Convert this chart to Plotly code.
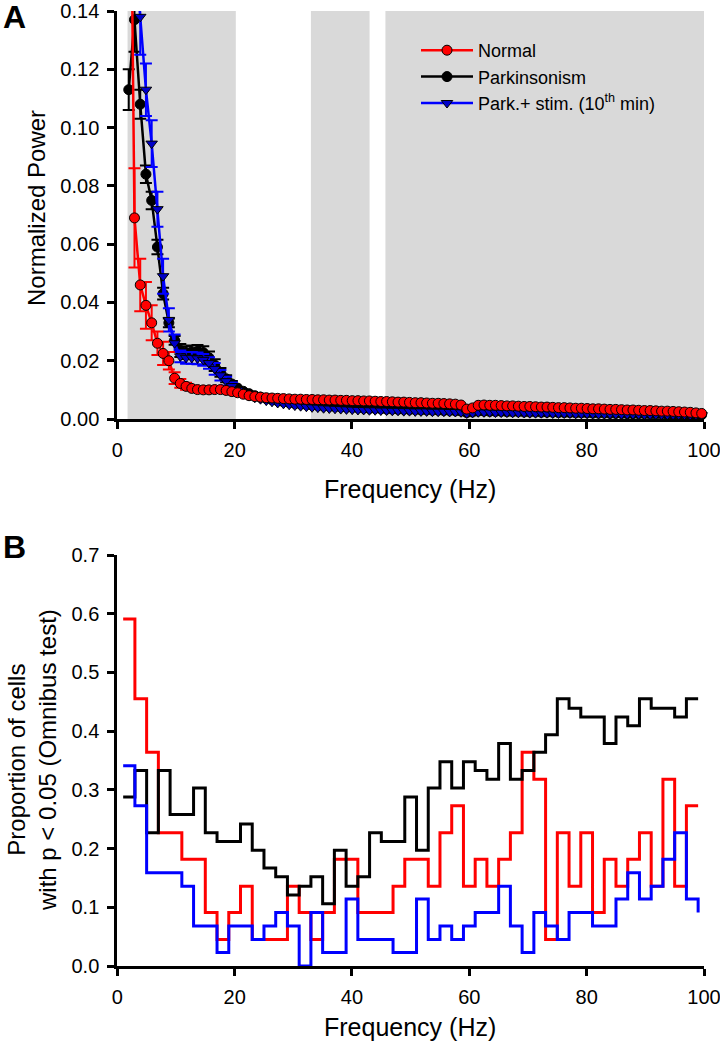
import plotly.graph_objects as go

# ---------------- Panel A data (spectra) ----------------
freq_a = [1.95, 2.93, 3.91, 4.88, 5.86, 6.84, 7.81, 8.79, 9.77, 10.74,
          11.72, 12.70, 13.67, 14.65, 15.63, 16.60, 17.58, 18.55, 19.53, 20.51,
          21.48, 22.46, 23.44, 24.41, 25.39, 26.37, 27.34, 28.32, 29.30, 30.27,
          31.25, 32.23, 33.20, 34.18, 35.16, 36.13, 37.11, 38.09, 39.06, 40.04,
          41.02, 41.99, 42.97, 43.95, 44.92, 45.90, 46.88, 47.85, 48.83, 49.80,
          50.78, 51.76, 52.73, 53.71, 54.69, 55.66, 56.64, 57.62, 58.59, 59.57,
          60.55, 61.52, 62.50, 63.48, 64.45, 65.43, 66.41, 67.38, 68.36, 69.34,
          70.31, 71.29, 72.27, 73.24, 74.22, 75.20, 76.17, 77.15, 78.13, 79.10,
          80.08, 81.05, 82.03, 83.01, 83.98, 84.96, 85.94, 86.91, 87.89, 88.87,
          89.84, 90.82, 91.80, 92.77, 93.75, 94.73, 95.70, 96.68, 97.66, 98.63,
          99.61]

normal_a = [0.2600, 0.0690, 0.0460, 0.0390, 0.0330, 0.0260, 0.0225, 0.0200, 0.0140, 0.0122,
            0.0112, 0.0105, 0.0101, 0.0100, 0.0100, 0.0101, 0.0101, 0.0098, 0.0094, 0.0090,
            0.0085, 0.0080, 0.0077, 0.0075, 0.0073, 0.0072, 0.0071, 0.0070, 0.0069, 0.0068,
            0.0068, 0.0067, 0.0067, 0.0066, 0.0066, 0.0065, 0.0065, 0.0064, 0.0064, 0.0063,
            0.0063, 0.0062, 0.0062, 0.0061, 0.0060, 0.0060, 0.0059, 0.0058, 0.0058, 0.0057,
            0.0056, 0.0056, 0.0055, 0.0054, 0.0054, 0.0053, 0.0052, 0.0051, 0.0048, 0.0034,
            0.0038, 0.0047, 0.0048, 0.0047, 0.0047, 0.0046, 0.0045, 0.0045, 0.0044, 0.0043,
            0.0043, 0.0042, 0.0041, 0.0041, 0.0040, 0.0039, 0.0039, 0.0038, 0.0037, 0.0037,
            0.0036, 0.0035, 0.0035, 0.0034, 0.0033, 0.0033, 0.0032, 0.0031, 0.0031, 0.0030,
            0.0029, 0.0029, 0.0028, 0.0027, 0.0027, 0.0026, 0.0025, 0.0024, 0.0023, 0.0021,
            0.0019]
normal_err = [0.030, 0.017, 0.009, 0.008, 0.006, 0.004, 0.004, 0.003, 0.002, 0.0015, 0.0012]

park_a = [0.1130, 0.1370, 0.1080, 0.0840, 0.0750, 0.0590, 0.0430, 0.0330, 0.0270, 0.0235,
          0.0228, 0.0230, 0.0232, 0.0228, 0.0210, 0.0185, 0.0160, 0.0138, 0.0120, 0.0106,
          0.0095, 0.0087, 0.0080, 0.0075, 0.0070, 0.0066, 0.0062, 0.0059, 0.0056, 0.0053,
          0.0051, 0.0049, 0.0047, 0.0046, 0.0044, 0.0043, 0.0042, 0.0041, 0.0040, 0.0039,
          0.0038, 0.0037, 0.0036, 0.0036, 0.0035, 0.0034, 0.0034, 0.0033, 0.0033, 0.0032,
          0.0032, 0.0031, 0.0031, 0.0030, 0.0030, 0.0029, 0.0029, 0.0028, 0.0027, 0.0022,
          0.0024, 0.0027, 0.0027, 0.0026, 0.0026, 0.0026, 0.0025, 0.0025, 0.0025, 0.0024,
          0.0024, 0.0024, 0.0023, 0.0023, 0.0023, 0.0022, 0.0022, 0.0022, 0.0021, 0.0021,
          0.0021, 0.0020, 0.0020, 0.0020, 0.0019, 0.0019, 0.0019, 0.0018, 0.0018, 0.0018,
          0.0018, 0.0017, 0.0017, 0.0017, 0.0016, 0.0016, 0.0016, 0.0016, 0.0015, 0.0015,
          0.0015]
park_err = [0.007, 0.011, 0.005, 0.003, 0.003, 0.0025, 0.002, 0.0015, 0.0015, 0.0022,
            0.0022, 0.0022, 0.0022, 0.0022, 0.0022, 0.002, 0.0015, 0.0012, 0.001]

stim_a = [0.1700, 0.1600, 0.1380, 0.1130, 0.0945, 0.0720, 0.0490, 0.0340, 0.0260, 0.0215,
          0.0210, 0.0210, 0.0208, 0.0203, 0.0192, 0.0172, 0.0150, 0.0130, 0.0113, 0.0099,
          0.0088, 0.0080, 0.0073, 0.0068, 0.0063, 0.0059, 0.0055, 0.0052, 0.0049, 0.0046,
          0.0044, 0.0042, 0.0040, 0.0039, 0.0037, 0.0036, 0.0035, 0.0034, 0.0033, 0.0032,
          0.0031, 0.0031, 0.0030, 0.0030, 0.0029, 0.0029, 0.0028, 0.0028, 0.0027, 0.0027,
          0.0026, 0.0026, 0.0026, 0.0025, 0.0025, 0.0025, 0.0024, 0.0024, 0.0023, 0.0019,
          0.0021, 0.0023, 0.0023, 0.0023, 0.0022, 0.0022, 0.0022, 0.0021, 0.0021, 0.0021,
          0.0020, 0.0020, 0.0020, 0.0020, 0.0019, 0.0019, 0.0019, 0.0019, 0.0018, 0.0018,
          0.0018, 0.0018, 0.0017, 0.0017, 0.0017, 0.0017, 0.0016, 0.0016, 0.0016, 0.0016,
          0.0015, 0.0015, 0.0015, 0.0015, 0.0014, 0.0014, 0.0014, 0.0014, 0.0013, 0.0013,
          0.0013]
stim_err = [0.010, 0.010, 0.013, 0.009, 0.008, 0.006, 0.006, 0.004, 0.003, 0.002,
            0.002, 0.002, 0.002, 0.002, 0.002, 0.002, 0.0018, 0.0015, 0.0012]

# gray frequency bands (Hz)
band_start = [1.75, 33.0, 45.7]
band_end = [20.2, 43.0, 100.0]

# ---------------- Panel B data (proportion of cells) ----------------
freq_b = [1, 3, 5, 7, 9, 11, 13, 15, 17, 19,
          21, 23, 25, 27, 29, 31, 33, 35, 37, 39,
          41, 43, 45, 47, 49, 51, 53, 55, 57, 59,
          61, 63, 65, 67, 69, 71, 73, 75, 77, 79,
          81, 83, 85, 87, 89, 91, 93, 95, 97, 99]
normal_b = [0.591, 0.455, 0.364, 0.227, 0.227, 0.182, 0.182, 0.091, 0.045, 0.091,
            0.136, 0.045, 0.045, 0.045, 0.136, 0.091, 0.045, 0.091, 0.182, 0.182,
            0.091, 0.091, 0.091, 0.136, 0.182, 0.182, 0.136, 0.227, 0.273, 0.136,
            0.182, 0.136, 0.182, 0.227, 0.364, 0.318, 0.045, 0.227, 0.136, 0.227,
            0.091, 0.182, 0.136, 0.182, 0.227, 0.136, 0.318, 0.136, 0.273, 0.273]
park_b = [0.288, 0.333, 0.227, 0.333, 0.258, 0.258, 0.303, 0.227, 0.212, 0.212,
          0.242, 0.197, 0.167, 0.152, 0.121, 0.136, 0.152, 0.106, 0.197, 0.136,
          0.152, 0.227, 0.212, 0.212, 0.288, 0.197, 0.303, 0.348, 0.303, 0.348,
          0.333, 0.318, 0.379, 0.318, 0.333, 0.364, 0.394, 0.455, 0.439, 0.424,
          0.424, 0.379, 0.424, 0.409, 0.455, 0.439, 0.439, 0.424, 0.455, 0.455]
stim_b = [0.341, 0.273, 0.159, 0.159, 0.159, 0.136, 0.068, 0.068, 0.023, 0.068,
          0.068, 0.045, 0.068, 0.091, 0.068, 0.000, 0.091, 0.023, 0.023, 0.114,
          0.045, 0.045, 0.045, 0.023, 0.023, 0.114, 0.045, 0.068, 0.045, 0.068,
          0.091, 0.091, 0.136, 0.068, 0.023, 0.091, 0.068, 0.045, 0.091, 0.091,
          0.068, 0.068, 0.114, 0.159, 0.114, 0.136, 0.182, 0.227, 0.114, 0.091]

x_ticks = [0, 20, 40, 60, 80, 100]
ya_ticks = [0.00, 0.02, 0.04, 0.06, 0.08, 0.10, 0.12, 0.14]
yb_ticks = [0.0, 0.1, 0.2, 0.3, 0.4, 0.5, 0.6, 0.7]

RED = "#ff0000"
BLUE = "#0000ff"
BLACK = "#000000"
FONT = "Liberation Sans, Arial, sans-serif"

W, H = 720, 1050

fig = go.Figure()

# Panel A traces (drawn black, blue, red; legend ordered by rank)
fig.add_trace(go.Scatter(
    x=freq_a, y=park_a, mode="lines+markers", name="Parkinsonism",
    line=dict(color=BLACK, width=2.5),
    marker=dict(symbol="circle", size=10, color=BLACK, line=dict(color=BLACK, width=1)),
    error_y=dict(type="data", array=park_err, color=BLACK, thickness=2, width=6),
    legendrank=2, cliponaxis=False, xaxis="x", yaxis="y"))
fig.add_trace(go.Scatter(
    x=freq_a, y=stim_a, mode="lines+markers",
    name="Park.+ stim. (10<sup>th</sup> min)",
    line=dict(color=BLUE, width=2.5),
    marker=dict(symbol="triangle-down", size=10, color="#0000c8", line=dict(color=BLACK, width=1)),
    error_y=dict(type="data", array=stim_err, color=BLUE, thickness=2, width=6),
    legendrank=3, cliponaxis=False, xaxis="x", yaxis="y"))
fig.add_trace(go.Scatter(
    x=freq_a, y=normal_a, mode="lines+markers", name="Normal",
    line=dict(color=RED, width=2.5),
    marker=dict(symbol="circle", size=10, color=RED, line=dict(color=BLACK, width=1)),
    error_y=dict(type="data", array=normal_err, color=RED, thickness=2, width=6),
    legendrank=1, cliponaxis=False, xaxis="x", yaxis="y"))

# Panel B step traces
for ys, col in [(normal_b, RED), (park_b, BLACK), (stim_b, BLUE)]:
    fig.add_trace(go.Scatter(
        x=freq_b, y=ys, mode="lines", line=dict(color=col, width=3, shape="hv"),
        showlegend=False, xaxis="x2", yaxis="y2"))

# gray bands
for s, e in zip(band_start, band_end):
    fig.add_shape(type="rect", xref="x", yref="y", x0=s, x1=e, y0=0, y1=0.14,
                  fillcolor="#d9d9d9", line=dict(width=0), layer="below")

x_dom = [117.3 / W, 704 / W]
ya_dom = [1 - 419 / H, 1 - 11 / H]
yb_dom = [1 - 966 / H, 1 - 555 / H]

axis_common = dict(showgrid=False, zeroline=False, showline=True, linecolor=BLACK,
                   linewidth=3, ticks="outside", ticklen=7, tickwidth=2.5,
                   tickcolor=BLACK, ticklabelstandoff=4, automargin=False,
                   ticklabeloverflow="allow",
                   tickfont=dict(family=FONT, size=20, color=BLACK))

fig.update_layout(
    width=W, height=H,
    margin=dict(l=0, r=0, t=0, b=0, autoexpand=False),
    paper_bgcolor="white", plot_bgcolor="white",
    font=dict(family=FONT, color=BLACK),
    xaxis=dict(domain=x_dom, range=[0, 100], tickvals=x_ticks, anchor="y", **axis_common),
    yaxis=dict(domain=ya_dom, range=[0, 0.14], tickvals=ya_ticks, tickformat=".2f",
               anchor="x", **axis_common),
    xaxis2=dict(domain=x_dom, range=[0, 100], tickvals=x_ticks, anchor="y2", **axis_common),
    yaxis2=dict(domain=yb_dom, range=[0, 0.7], tickvals=yb_ticks, tickformat=".1f",
                anchor="x2", **axis_common),
    legend=dict(x=416 / W, y=1 - 32 / H, xanchor="left", yanchor="top",
                bgcolor="rgba(0,0,0,0)", font=dict(family=FONT, size=18, color=BLACK),
                itemwidth=52, tracegroupgap=0),
    showlegend=True,
)

ann = [
    dict(text="<b>A</b>", x=1 / W, y=1 - 17 / H, xanchor="left", yanchor="middle",
         font=dict(size=32)),
    dict(text="<b>B</b>", x=1 / W, y=1 - 547 / H, xanchor="left", yanchor="middle",
         font=dict(size=32)),
    dict(text="Normalized Power", x=36 / W, y=1 - 208 / H, textangle=-90,
         xanchor="center", yanchor="middle", font=dict(size=24)),
    dict(text="Proportion of cells<br>with p &lt; 0.05 (Omnibus test)", x=32 / W,
         y=1 - 760 / H, textangle=-90, xanchor="center", yanchor="middle",
         font=dict(size=24)),
    dict(text="Frequency (Hz)", x=410 / W, y=1 - 489 / H, xanchor="center",
         yanchor="middle", font=dict(size=25)),
    dict(text="Frequency (Hz)", x=410 / W, y=1 - 1027 / H, xanchor="center",
         yanchor="middle", font=dict(size=25)),
]
for a in ann:
    a.update(xref="paper", yref="paper", showarrow=False)
    a["font"].update(family=FONT, color=BLACK)
fig.update_layout(annotations=ann)

fig.write_html("out.html",
               config={"displayModeBar": False},
               post_script="document.body.style.margin='0';"
                           "document.body.style.overflow='hidden';")
